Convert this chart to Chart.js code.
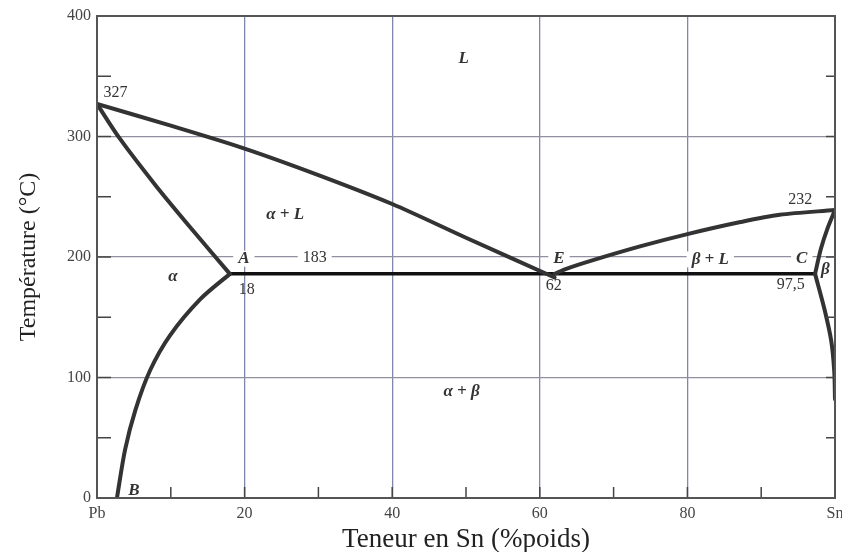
<!DOCTYPE html>
<html><head><meta charset="utf-8">
<script src="https://cdn.jsdelivr.net/npm/chart.js@4/dist/chart.umd.min.js"></script>
<style>html,body{margin:0;padding:0;background:#fff}#wrap{width:842px;height:552px}</style>
</head><body><div id="wrap"><canvas id="c" width="842" height="552"></canvas></div>
<script>
// ---- Data (composition in % Sn, temperature in °C) ----
const xTickValues = [0, 20, 40, 60, 80, 100];
const xTickLabels = ['Pb', '20', '40', '60', '80', 'Sn'];
const yTickValues = [0, 100, 200, 300, 400];

const liquidusLeft  = [{x:0,y:327},{x:10,y:309},{x:20,y:290},{x:30,y:268},{x:40,y:244},{x:50,y:216},{x:62,y:183}];
const solidusLeft   = [{x:0,y:327},{x:3,y:299},{x:8,y:259},{x:13,y:222},{x:18,y:186}];
const solvusLeft    = [{x:18,y:186},{x:14,y:165},{x:9.9,y:135},{x:7.2,y:106},{x:5.2,y:73},{x:3.8,y:40},{x:2.7,y:0}];
const eutectic      = [{x:18,y:186},{x:97.3,y:186}];
const liquidusRight = [{x:62,y:186},{x:63.5,y:190},{x:67,y:197},{x:73.7,y:209},{x:80,y:219},{x:87.2,y:229},{x:92.5,y:235},{x:100,y:239}];
const solidusRight  = [{x:97.3,y:186},{x:98.1,y:207},{x:99,y:224},{x:100,y:239}];
const solvusRight   = [{x:97.3,y:186},{x:98.6,y:156},{x:99.5,y:130},{x:99.9,y:105},{x:100,y:82}];

const labelTexts = ['L','327','α + L','α','A','183','E','β + L','C','β','18','62','97,5','232','α + β','B'];
const labelSn    = [49.7, 2.5, 25.5, 10.3, 19.9, 29.5, 62.6, 83.1, 95.5, 98.7, 20.3, 61.9, 94.0, 95.3, 49.4, 5.0];
const labelTemp  = [365, 336, 235, 184, 198.6, 199.5, 198.6, 198, 198.6, 189.5, 173, 175.8, 177, 247.7, 88, 6];

// ---- Chart ----
const curveStyle = {showLine:true, pointRadius:0, borderColor:'#333', borderWidth:4, fill:false, tension:0.3, borderCapStyle:'round', borderJoinStyle:'round'};
const serif = '"Liberation Serif", "DejaVu Serif", serif';

const overlay = {
  id: 'overlay',
  beforeDatasetsDraw(chart) {
    const {ctx, scales:{x, y}} = chart;
    ctx.save();
    ctx.textAlign = 'center';
    ctx.textBaseline = 'middle';
    labelTexts.forEach((t, i) => {
      const numeric = /\d/.test(t);
      ctx.font = numeric ? '16px ' + serif : 'italic bold 17px ' + serif;
      const px = x.getPixelForValue(labelSn[i]);
      const py = y.getPixelForValue(labelTemp[i]);
      const w = ctx.measureText(t).width;
      if (Math.abs(labelTemp[i] - 200) < 3) {
        ctx.fillStyle = '#fff';
        ctx.fillRect(px - w/2 - 5, py - 8, w + 10, 16);
      }
      ctx.fillStyle = '#333';
      ctx.fillText(t, px, py);
    });
    ctx.restore();
  },
  afterDraw(chart) {
    const {ctx, chartArea:{left, right, top, bottom}, scales:{x, y}} = chart;
    ctx.save();
    ctx.strokeStyle = '#444';
    ctx.lineWidth = 1.5;
    ctx.beginPath();
    for (let v = 0; v <= 400; v += 50) {
      const py = y.getPixelForValue(v);
      ctx.moveTo(left, py); ctx.lineTo(left + 14, py);
      ctx.moveTo(right, py); ctx.lineTo(right - 9, py);
    }
    for (let v = 10; v < 100; v += 10) {
      const px = x.getPixelForValue(v);
      ctx.moveTo(px, bottom); ctx.lineTo(px, bottom - 11);
    }
    ctx.stroke();
    ctx.strokeStyle = '#555';
    ctx.lineWidth = 2;
    ctx.strokeRect(left, top, right - left, bottom - top);
    ctx.restore();
  }
};

new Chart(document.getElementById('c'), {
  type: 'scatter',
  data: {
    datasets: [
      {...curveStyle, data: liquidusLeft},
      {...curveStyle, data: solidusLeft},
      {...curveStyle, data: solvusLeft},
      {...curveStyle, data: liquidusRight},
      {...curveStyle, data: solidusRight},
      {...curveStyle, data: solvusRight},
      {...curveStyle, data: eutectic, borderColor:'#111', borderWidth:3.5, tension:0}
    ]
  },
  options: {
    responsive: false,
    animation: false,
    layout: {padding: {top: 16, right: 7, left: 0, bottom: 0}},
    plugins: {legend: {display: false}, tooltip: {enabled: false}},
    scales: {
      x: {
        type: 'linear', min: 0, max: 100,
        afterBuildTicks: s => { s.ticks = xTickValues.map(v => ({value: v})); },
        afterFit: s => { s.height = 54; s.paddingRight = 0; s.paddingLeft = 0; },
        ticks: {
          callback: v => xTickLabels[xTickValues.indexOf(v)],
          font: {family: serif, size: 16}, color: '#444', padding: 6, maxRotation: 0, autoSkip: false
        },
        grid: {color: c => (c.tick && (c.tick.value === 0 || c.tick.value === 100)) ? 'rgba(0,0,0,0)' : '#7f88aa', lineWidth: 1.3, drawTicks: false},
        border: {display: false},
        title: {display: true, text: 'Teneur en Sn (%poids)', font: {family: serif, size: 27, lineHeight: 0.9}, color: '#222', padding: {top: 0, bottom: 0}}
      },
      y: {
        type: 'linear', min: 0, max: 400,
        afterBuildTicks: s => { s.ticks = yTickValues.map(v => ({value: v})); },
        afterFit: s => { s.width = 97; },
        ticks: {font: {family: serif, size: 16}, color: '#444', padding: 6},
        grid: {color: c => (c.tick && (c.tick.value === 0 || c.tick.value === 400)) ? 'rgba(0,0,0,0)' : '#9090a0', lineWidth: 1.2, drawTicks: false},
        border: {display: false},
        title: {display: true, text: 'Température (°C)', font: {family: serif, size: 24, lineHeight: 1.2}, color: '#222', padding: {top: 14, bottom: 0}}
      }
    }
  },
  plugins: [overlay]
});
</script>
</body></html>
